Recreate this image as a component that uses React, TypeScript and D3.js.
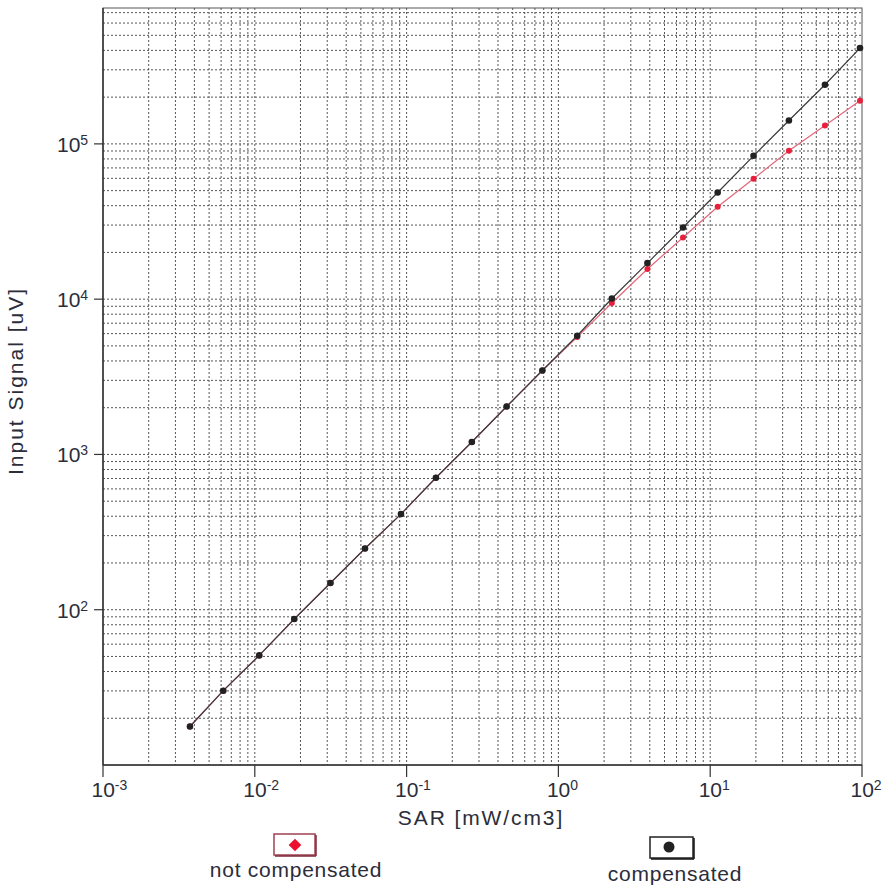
import React from "react";
import * as d3 from "d3";

const sarValues = [0.00374, 0.0062, 0.0107, 0.0182, 0.0315, 0.0532, 0.0918, 0.156, 0.269, 0.456, 0.784, 1.33, 2.25, 3.86, 6.62, 11.2, 19.3, 33.0, 57.0, 97.0];
const compensated = [17.7, 30.1, 50.8, 87.1, 148.6, 248, 413, 708, 1202, 2037, 3474, 5811, 10100, 17070, 28960, 48650, 83800, 141500, 240400, 414000];
const notCompensated = [17.7, 30.1, 50.8, 87.1, 148.6, 248, 413, 708, 1202, 2037, 3474, 5700, 9440, 15630, 24950, 39360, 59600, 90300, 131400, 189600];
const xTickExps = [-3, -2, -1, 0, 1, 2];
const yTickExps = [2, 3, 4, 5];
const xDomain: [number, number] = [1e-3, 1e2];
const yDomain: [number, number] = [10, 7.5e5];
const legendLabels = ["not compensated", "compensated"];

const FONT = "'Liberation Sans', Arial, sans-serif";
const TEXT = "#2b2d3a";

export default function App() {
  const left = 103, right = 862, top = 8, bottom = 765;
  const x = d3.scaleLog().domain(xDomain).range([left, right]);
  const y = d3.scaleLog().domain(yDomain).range([bottom, top]);

  const xGrid: number[] = [];
  for (let d = -3; d <= 1; d++) for (let k = 1; k <= 9; k++) xGrid.push(k * Math.pow(10, d));
  const yGrid: number[] = [];
  for (let d = 1; d <= 5; d++) for (let k = 1; k <= 9; k++) {
    const v = k * Math.pow(10, d);
    if (v <= yDomain[1]) yGrid.push(v);
  }

  const line = d3.line<number>().x((_, i) => x(sarValues[i])).y((v) => y(v));
  const redPts = notCompensated.map((v, i) => [x(sarValues[i]), y(v)]);
  const blackPts = compensated.map((v, i) => [x(sarValues[i]), y(v)]);

  return (
    <svg width={887} height={888} style={{ position: "absolute", left: 0, top: 0, background: "#fff" }}>
      <rect x={0} y={0} width={887} height={888} fill="#fff" />
      {/* grid */}
      <g stroke="#3a3a3a" strokeWidth={1} strokeDasharray="2,2" opacity={0.85}>
        {xGrid.filter((v) => v > xDomain[0]).map((v, i) => (
          <line key={"gx" + i} x1={x(v)} x2={x(v)} y1={top} y2={bottom} />
        ))}
        {yGrid.filter((v) => v > yDomain[0]).map((v, i) => (
          <line key={"gy" + i} x1={left} x2={right} y1={y(v)} y2={y(v)} />
        ))}
      </g>
      {/* frame */}
      <rect x={left} y={top} width={right - left} height={bottom - top} fill="none" stroke="#555" strokeWidth={1} />
      <line x1={left} x2={left} y1={top} y2={bottom} stroke="#333" strokeWidth={1.5} />
      <line x1={left} x2={right} y1={bottom} y2={bottom} stroke="#333" strokeWidth={1.5} />
      {/* x ticks */}
      {xTickExps.map((e) => {
        const px = x(Math.pow(10, e));
        return (
          <g key={"xt" + e}>
            <line x1={px} x2={px} y1={bottom} y2={bottom + 12} stroke="#333" strokeWidth={1.2} />
            <text x={px - 11.5} y={797} fontFamily={FONT} fontSize={21} fill={TEXT}>
              10
              <tspan dy={-7} fontSize={14}>{e}</tspan>
            </text>
          </g>
        );
      })}
      {/* y ticks */}
      {yTickExps.map((e) => {
        const py = y(Math.pow(10, e));
        return (
          <g key={"yt" + e}>
            <line x1={left - 9} x2={left} y1={py} y2={py} stroke="#333" strokeWidth={1.2} />
            <text x={57} y={py + 8} fontFamily={FONT} fontSize={21} fill={TEXT}>
              10
              <tspan dy={-7} fontSize={14}>{e}</tspan>
            </text>
          </g>
        );
      })}
      {/* axis titles */}
      <text x={481} y={825} textAnchor="middle" fontFamily={FONT} fontSize={21} letterSpacing={1.9} fill={TEXT}>
        SAR [mW/cm3]
      </text>
      <text transform={`translate(23,381) rotate(-90)`} textAnchor="middle" fontFamily={FONT} fontSize={21} letterSpacing={2} fill={TEXT}>
        Input Signal [uV]
      </text>
      {/* series */}
      <path d={line(notCompensated) || ""} fill="none" stroke="#e4667a" strokeWidth={1.2} />
      {redPts.map((p, i) => (
        <circle key={"r" + i} cx={p[0]} cy={p[1]} r={3} fill="#e8203c" />
      ))}
      <path d={line(compensated) || ""} fill="none" stroke="#3a3a3a" strokeWidth={1.2} />
      {blackPts.map((p, i) => (
        <circle key={"b" + i} cx={p[0]} cy={p[1]} r={3.3} fill="#222" />
      ))}
      {/* legend */}
      <g>
        <rect x={274} y={834} width={41} height={21} fill="#fff" stroke="#a04050" strokeWidth={1.5} />
        <line x1={275} x2={316} y1={856} y2={856} stroke="#7a2a3a" strokeWidth={1.5} />
        <line x1={316} x2={316} y1={835} y2={856} stroke="#7a2a3a" strokeWidth={1.5} />
        <rect x={290.5} y={840.5} width={9} height={9} fill="#ec1030" transform="rotate(45 295 845)" />
        <text x={296} y={877} textAnchor="middle" fontFamily={FONT} fontSize={21} letterSpacing={0.75} fill={TEXT}>
          {legendLabels[0]}
        </text>
        <rect x={650} y={837} width={43} height={21} fill="#fff" stroke="#222" strokeWidth={1.5} />
        <line x1={651} x2={694} y1={859} y2={859} stroke="#111" strokeWidth={1.5} />
        <line x1={694} x2={694} y1={838} y2={859} stroke="#111" strokeWidth={1.5} />
        <circle cx={669} cy={847} r={5.5} fill="#222" />
        <text x={675} y={881} textAnchor="middle" fontFamily={FONT} fontSize={21} letterSpacing={0.75} fill={TEXT}>
          {legendLabels[1]}
        </text>
      </g>
    </svg>
  );
}
